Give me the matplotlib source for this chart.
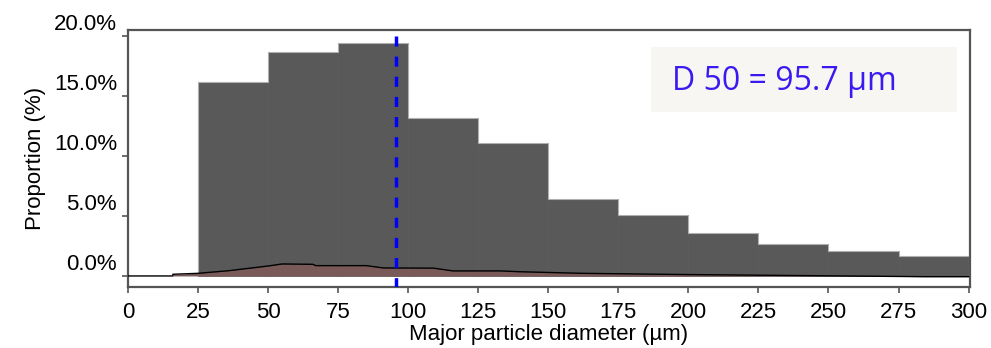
import matplotlib.pyplot as plt
import matplotlib.transforms as mtransforms
from matplotlib.patches import Rectangle

# histogram bins (um) and proportions (%)
bin_edges = [25, 50, 75, 100, 125, 150, 175, 200, 225, 250, 275, 300]
proportions = [16.2, 18.7, 19.45, 13.2, 11.1, 6.4, 5.05, 3.6, 2.65, 2.1, 1.7]

# smoothed density curve underneath
curve_x = [0, 16, 16, 25, 36, 50, 55, 66, 67, 85, 91, 109, 116, 133, 140, 162, 198, 284, 300]
curve_y = [0, 0, 0.14, 0.22, 0.44, 0.83, 1.0, 0.97, 0.86, 0.86, 0.67, 0.65, 0.42, 0.42, 0.35, 0.22, 0.12, -0.06, -0.06]

d50 = 95.7
xticks = list(range(0, 301, 25))
yticks = [0, 5, 10, 15, 20]

plt.rcParams['font.family'] = ['Liberation Sans', 'DejaVu Sans']

fig = plt.figure(figsize=(9.91, 3.48), dpi=100)
ax = fig.add_axes([0.1292, 0.1753, 0.8496, 0.7385])

widths = [bin_edges[i + 1] - bin_edges[i] for i in range(len(proportions))]
ax.bar(bin_edges[:-1], proportions, width=widths, align='edge',
       color='#595959', edgecolor='#595959', linewidth=0.5, zorder=2)
ax.stairs(proportions, bin_edges, baseline=0, color='#b0b0b0', linewidth=0.8, zorder=2.5)

ax.fill_between(curve_x, 0, curve_y, color='#7a5a58', zorder=3, linewidth=0)
ax.plot(curve_x, curve_y, color='black', linewidth=1.0, zorder=4)

# median line, dashes starting from the 20% level
ax.plot([d50, d50], [20, -0.92], color='#0000ff', linewidth=2.5,
        dashes=(2.9, 2.9), zorder=5)

ax.set_xlim(0, 300.5)
ax.set_ylim(-0.92, 20.5)
ax.set_xticks(xticks)
ax.set_yticks(yticks)
ax.set_yticklabels([f"{v:.1f}%" for v in yticks])

for s in ax.spines.values():
    s.set_color('#555555')
    s.set_linewidth(1.6)

ax.tick_params(axis='both', direction='out', length=4.3, width=1.2, color='#555555',
               labelsize=16, labelcolor='black')
ax.tick_params(axis='x', pad=6.5)
ax.tick_params(axis='y', pad=3.6)

# y labels sit above their ticks
offset = mtransforms.ScaledTranslation(0, 14 / 100, fig.dpi_scale_trans)
for lbl in ax.get_yticklabels():
    lbl.set_transform(lbl.get_transform() + offset)

ax.set_xlabel("Major particle diameter (µm)", fontsize=16, labelpad=1)
ax.set_ylabel("Proportion (%)", fontsize=16, labelpad=6)

# D50 annotation box
ax.add_patch(Rectangle((0.6207, 0.681), 0.3638, 0.253, transform=ax.transAxes,
                       facecolor='#f7f6f3', edgecolor='none', zorder=6))
ax.text(0.646, 0.80, f"D 50 = {d50} µm", transform=ax.transAxes,
        fontsize=23, color='#3a1af0', family=['Open Sans', 'DejaVu Sans'],
        va='center', ha='left', zorder=7)

fig.savefig("out.png", dpi=100)
